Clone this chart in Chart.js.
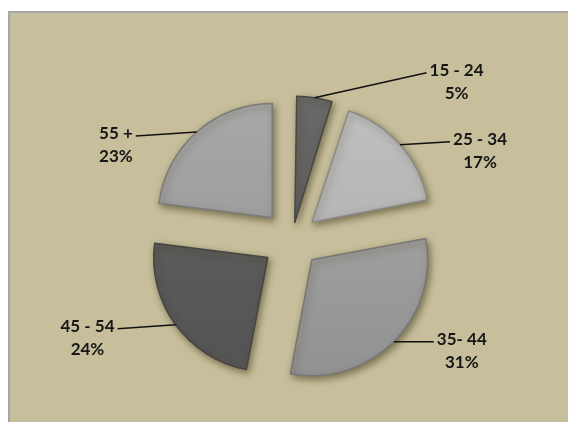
<!DOCTYPE html>
<html>
<head>
<meta charset="utf-8">
<script src="https://cdn.jsdelivr.net/npm/chart.js@4.4.1/dist/chart.umd.min.js"></script>
<style>
  html, body { margin: 0; padding: 0; background: #ffffff; }
  #wrap { width: 568px; height: 422px; }
</style>
</head>
<body>
<div id="wrap"><canvas id="agePie" width="568" height="422"></canvas></div>
<script>
// age groups and their shares (%)
const ageGroups = ['15 - 24', '25 - 34', '35- 44', '45 - 54', '55 +'];
const shares = [5, 17, 31, 24, 23];

// look
const sliceTop = ['#6a6a6a', '#c2c2c2', '#aaaaaa', '#626262', '#ababab'];
const sliceBottom = ['#555555', '#a9a9a9', '#8f8f8f', '#525252', '#929292'];
const edgeColors = ['#474747', '#8a8a8a', '#767676', '#444444', '#7a7a7a'];
const explodePx = 30;
// where each callout line ends, relative to where it leaves the slice
const calloutShift = [[112, -25], [50, -3], [40, 0], [-58, 4], [-61, 4]];

const total = shares.reduce((s, v) => s + v, 0);

// Chart.js moves a slice by offset/4 * (1 + fix); solve so every slice moves the same distance
function offsetFor(value) {
  const circ = value / total * Math.PI * 2;
  const fix = 1 - Math.sin(Math.min(Math.PI, circ));
  return 4 * explodePx / (1 + fix);
}

function sliceFill(ctx) {
  const area = ctx.chart.chartArea;
  if (!area) return sliceBottom[ctx.dataIndex];
  const cy = (area.top + area.bottom) / 2;
  const g = ctx.chart.ctx.createLinearGradient(0, cy - 150, 0, cy + 150);
  g.addColorStop(0, sliceTop[ctx.dataIndex]);
  g.addColorStop(1, sliceBottom[ctx.dataIndex]);
  return g;
}

const framePlugin = {
  id: 'frame',
  beforeDraw(chart) {
    const c = chart.ctx;
    c.save();
    c.fillStyle = '#ffffff';
    c.fillRect(0, 0, chart.width, chart.height);
    c.fillStyle = '#c7bf9b';
    c.fillRect(8, 11, chart.width - 8, chart.height - 11);
    c.fillStyle = '#a6a6a6';
    c.fillRect(8, 11, chart.width - 8, 2);
    c.fillRect(8, 11, 2, chart.height - 11);
    c.restore();
  }
};

const shadowPlugin = {
  id: 'sliceShadow',
  beforeDatasetDraw(chart) {
    const c = chart.ctx;
    c.save();
    c.shadowColor = 'rgba(60, 50, 20, 0.55)';
    c.shadowBlur = 7;
    c.shadowOffsetX = 2;
    c.shadowOffsetY = 3;
  },
  afterDatasetDraw(chart) {
    chart.ctx.restore();
  }
};

const calloutPlugin = {
  id: 'callouts',
  afterDatasetsDraw(chart) {
    const c = chart.ctx;
    const meta = chart.getDatasetMeta(0);
    c.save();
    c.strokeStyle = '#111111';
    c.lineWidth = 1.5;
    c.fillStyle = '#161616';
    c.font = 'bold 17px Lato, "Open Sans", sans-serif';
    c.textBaseline = 'middle';
    meta.data.forEach((arc, i) => {
      const p = arc.getProps(['x', 'y', 'startAngle', 'endAngle', 'outerRadius'], true);
      const mid = (p.startAngle + p.endAngle) / 2;
      const r = p.outerRadius + explodePx;
      const ax = p.x + Math.cos(mid) * r;
      const ay = p.y + Math.sin(mid) * r;
      const ex = ax + calloutShift[i][0];
      const ey = ay + calloutShift[i][1];
      c.beginPath();
      c.moveTo(ax, ay);
      c.lineTo(ex, ey);
      c.stroke();
      const right = calloutShift[i][0] > 0;
      const name = ageGroups[i];
      const w = c.measureText(name).width;
      const tx = right ? ex + 3 : ex - 3 - w;
      c.textAlign = 'left';
      c.fillText(name, tx, ey - 2);
      c.textAlign = 'center';
      c.fillText(shares[i] + '%', tx + w / 2, ey + 21);
    });
    c.restore();
  }
};

new Chart(document.getElementById('agePie'), {
  type: 'pie',
  data: {
    labels: ageGroups,
    datasets: [{
      data: shares,
      backgroundColor: sliceFill,
      borderColor: edgeColors,
      borderWidth: 1.5,
      borderJoinStyle: 'round',
      radius: 114,
      offset: ctx => offsetFor(ctx.raw)
    }]
  },
  options: {
    responsive: false,
    animation: false,
    events: [],
    layout: { padding: { left: 16, right: 0, top: 58, bottom: 0 } },
    plugins: {
      legend: { display: false },
      tooltip: { enabled: false }
    }
  },
  plugins: [framePlugin, shadowPlugin, calloutPlugin]
});
</script>
</body>
</html>
